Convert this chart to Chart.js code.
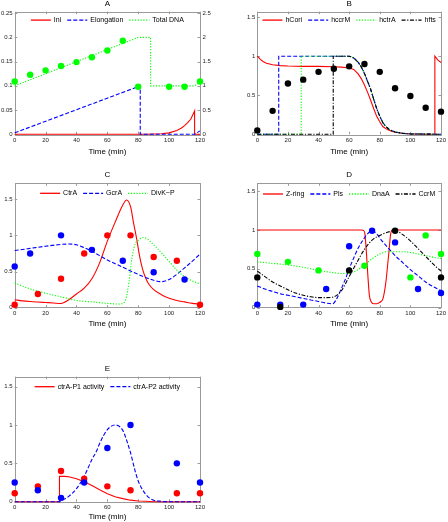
<!DOCTYPE html>
<html>
<head>
<meta charset="utf-8">
<script src="https://cdn.jsdelivr.net/npm/chart.js@4.4.0/dist/chart.umd.min.js"></script>
<style>
body { margin: 0; background: #fff; }
#page { position: relative; width: 448px; height: 522px; overflow: hidden; background: #fff; }
#page canvas { position: absolute; }
</style>
</head>
<body>
<div id="page">
	<canvas id="chartA"></canvas>
	<canvas id="chartB"></canvas>
	<canvas id="chartC"></canvas>
	<canvas id="chartD"></canvas>
	<canvas id="chartE"></canvas>
</div>
<script>
// ---- data (time in min) ----

// A
const iniTime = [0, 85, 95, 100, 105, 108, 110, 112, 114, 116.5, 116.5, 120]
const iniValue = [0, 0, 0.001, 0.003, 0.008, 0.013, 0.018, 0.024, 0.031, 0.048, 0, 0]
const elongTime = [0, 81.3, 81.3, 116.5, 120]
const elongValue = [0.003, 0.1, 0, 0, 0.007]
const dnaTime = [0, 80, 88, 88, 116.5, 120]
const dnaValue = [1.0, 2.0, 2.0, 1.0, 1.0, 1.07]
const dnaDotTime = [0, 10, 20, 30, 40, 50, 60, 70, 80, 100, 110, 120]
const dnaDotValue = [1.09, 1.23, 1.32, 1.41, 1.49, 1.59, 1.73, 1.93, 0.98, 0.98, 0.98, 1.09]

// B
const hCoriTime = [0, 2, 4, 6, 8, 10, 15, 20, 30, 40, 50, 55, 60, 63, 66, 68, 70, 72, 74, 76, 78, 80, 82, 85, 88, 92, 96, 100, 110, 116, 116, 118, 120]
const hCoriValue = [1.0, 0.96, 0.93, 0.91, 0.9, 0.89, 0.88, 0.875, 0.87, 0.87, 0.865, 0.86, 0.85, 0.83, 0.77, 0.71, 0.63, 0.54, 0.44, 0.33, 0.23, 0.16, 0.1, 0.06, 0.035, 0.02, 0.01, 0.005, 0, 0, 1.0, 0.95, 0.92]
const hFallTime = [60, 62, 64, 66, 68, 70, 72, 74, 76, 78, 80, 82, 84, 86, 88, 90, 95, 100, 120]
const hFallValue = [1, 0.99, 0.96, 0.92, 0.86, 0.78, 0.68, 0.58, 0.45, 0.33, 0.23, 0.15, 0.1, 0.065, 0.045, 0.03, 0.012, 0.005, 0]
const hccrMOn = 14
const hctrAOn = 28.7
const hftsOn = 49.6
const hDotTime = [0, 10, 20, 30, 40, 50, 60, 70, 80, 90, 100, 110, 120]
const hDotValue = [0.05, 0.3, 0.65, 0.7, 0.8, 0.84, 0.87, 0.9, 0.8, 0.59, 0.49, 0.34, 0.29]

// C
const ctrATime = [0, 5, 10, 15, 20, 25, 30, 35, 40, 45, 50, 55, 60, 65, 70, 72.5, 75, 77, 79, 81, 83, 85, 87, 90, 95, 100, 105, 110, 115, 120]
const ctrAValue = [0.11, 0.095, 0.085, 0.078, 0.072, 0.066, 0.058, 0.11, 0.19, 0.27, 0.4, 0.62, 0.92, 1.18, 1.42, 1.49, 1.4, 1.17, 0.95, 0.7, 0.52, 0.4, 0.32, 0.25, 0.18, 0.13, 0.1, 0.08, 0.06, 0.05]
const gcrATime = [0, 10, 20, 30, 35, 40, 45, 50, 60, 70, 80, 90, 95, 100, 110, 120]
const gcrAValue = [0.79, 0.82, 0.85, 0.875, 0.88, 0.87, 0.83, 0.78, 0.66, 0.56, 0.46, 0.38, 0.36, 0.39, 0.55, 0.74]
const divKTime = [0, 10, 20, 30, 40, 50, 60, 68, 70, 72, 74, 76, 78, 80, 83, 86, 90, 95, 100, 105, 110, 115, 120]
const divKValue = [0.34, 0.26, 0.2, 0.15, 0.1, 0.08, 0.06, 0.05, 0.06, 0.12, 0.35, 0.7, 0.88, 0.93, 0.97, 0.95, 0.87, 0.76, 0.64, 0.52, 0.43, 0.37, 0.33]
const ctrADotTime = [0, 15, 30, 45, 60, 75, 90, 105, 120]
const ctrADotValue = [0.04, 0.19, 0.4, 0.75, 1.0, 1.0, 0.7, 0.65, 0.04]
const gcrADotTime = [0, 10, 30, 50, 70, 90, 110]
const gcrADotValue = [0.57, 0.75, 1.0, 0.8, 0.65, 0.49, 0.39]

// D
const zRingTime = [0, 68, 69.5, 70.3, 71.1, 72.2, 73.2, 74.3, 76, 78, 80, 82, 84, 85, 86, 87, 88, 120]
const zRingValue = [1, 1, 0.99, 0.95, 0.76, 0.42, 0.16, 0.08, 0.05, 0.05, 0.07, 0.11, 0.33, 0.52, 0.72, 0.93, 1, 1]
const plsTime = [0, 5, 10, 15, 20, 25, 30, 35, 40, 45, 49, 50, 52, 55, 58, 60, 63, 66, 69, 72, 75, 78, 81, 85, 90, 95, 100, 105, 110, 115, 120]
const plsValue = [0.28, 0.24, 0.21, 0.18, 0.16, 0.14, 0.12, 0.1, 0.08, 0.06, 0.05, 0.06, 0.12, 0.25, 0.39, 0.5, 0.64, 0.77, 0.87, 0.95, 0.99, 0.95, 0.87, 0.78, 0.67, 0.58, 0.49, 0.41, 0.33, 0.27, 0.22]
const dnaATime = [0, 10, 20, 30, 40, 50, 55, 60, 65, 70, 75, 80, 85, 90, 95, 100, 105, 110, 115, 120]
const dnaAValue = [0.59, 0.57, 0.55, 0.52, 0.48, 0.45, 0.44, 0.45, 0.48, 0.55, 0.63, 0.69, 0.72, 0.72, 0.72, 0.71, 0.69, 0.67, 0.65, 0.63]
const ccrMTime = [0, 5, 10, 15, 20, 25, 30, 35, 40, 45, 50, 55, 60, 65, 70, 75, 80, 85, 90, 95, 100, 105, 110, 115, 120]
const ccrMValue = [0.47, 0.4, 0.33, 0.28, 0.23, 0.19, 0.16, 0.14, 0.13, 0.13, 0.14, 0.22, 0.4, 0.58, 0.75, 0.87, 0.93, 0.97, 0.99, 0.94, 0.86, 0.76, 0.66, 0.56, 0.47]
const plsDotTime = [0, 15, 30, 45, 60, 75, 90, 105, 120]
const plsDotValue = [0.04, 0.04, 0.04, 0.24, 0.79, 0.99, 0.84, 0.24, 0.19]
const dnaADotTime = [0, 20, 40, 70, 100, 110, 120]
const dnaADotValue = [0.69, 0.59, 0.48, 0.54, 0.39, 0.93, 0.69]
const ccrMDotTime = [0, 15, 60, 90, 120]
const ccrMDotValue = [0.39, 0.01, 0.48, 0.99, 0.39]

// E
const p1Time = [0, 29, 29, 32, 35, 40, 45, 50, 55, 60, 65, 70, 75, 80, 85, 90, 120]
const p1Value = [0, 0, 0.33, 0.33, 0.325, 0.3, 0.26, 0.21, 0.155, 0.105, 0.065, 0.04, 0.02, 0.01, 0.005, 0, 0]
const p2Time = [0, 29, 30, 35, 40, 45, 50, 53, 55, 60, 65, 70, 73, 75, 78, 80, 83, 86, 90, 95, 100, 120]
const p2Value = [0, 0, 0.01, 0.07, 0.17, 0.33, 0.55, 0.66, 0.76, 0.94, 1.0, 0.93, 0.77, 0.64, 0.4, 0.27, 0.15, 0.07, 0.02, 0.005, 0, 0]
const p1DotTime = [0, 15, 30, 45, 60, 75, 105, 120]
const p1DotValue = [0.11, 0.2, 0.4, 0.3, 0.2, 0.15, 0.11, 0.11]
const p2DotTime = [0, 15, 30, 45, 60, 75, 105, 120]
const p2DotValue = [0.25, 0.15, 0.05, 0.25, 0.7, 1.0, 0.5, 0.25]

const timeTicks = [0, 20, 40, 60, 80, 100, 120]

// ---- styling ----
const FONT = '"Liberation Sans", Arial, Helvetica, sans-serif'
Chart.defaults.font.family = FONT
Chart.defaults.color = '#000'

const RED = '#ff0000'
const BLUE = '#0000ff'
const GREEN = '#00ff00'
const BLACK = '#000000'
const DASH = [4, 2]
const DOT = [1.2, 1.6]
const DASHDOT = [4, 1.6, 1.2, 1.6]

const pairs = function (xs, ys) {
	return xs.map((x, i) => ({ x: x, y: ys[i] }))
}

// switch-on step followed by the shared decay
const stepThenFall = function (on) {
	return {
		xs: [0, on, on].concat(hFallTime),
		ys: [0, 0, 1].concat(hFallValue)
	}
}

const lineSet = function (label, xs, ys, color, dash, smooth, axis) {
	return {
		label: label,
		data: pairs(xs, ys),
		borderColor: color,
		backgroundColor: color,
		borderWidth: 1.1,
		borderDash: dash,
		pointRadius: 0,
		fill: false,
		tension: 0,
		cubicInterpolationMode: smooth ? 'monotone' : 'default',
		yAxisID: axis || 'y',
		clip: false
	}
}

const dotSet = function (xs, ys, color, axis) {
	return {
		label: '',
		data: pairs(xs, ys),
		showLine: false,
		pointRadius: 3.2,
		pointBorderWidth: 0,
		pointBackgroundColor: color,
		borderColor: color,
		yAxisID: axis || 'y',
		clip: false
	}
}

const fmt = function (v) {
	return String(Math.round(v * 100) / 100)
}

// title, box, inward ticks and in-axes legend
const PanelDecor = function (title, legendGap) {
	return {
		id: 'panelDecor',
		beforeDatasetsDraw: function (chart) {
			const ctx = chart.ctx
			const a = chart.chartArea
			ctx.save()
			ctx.strokeStyle = '#9a9a9a'
			ctx.lineWidth = 1
			ctx.strokeRect(Math.round(a.left) + 0.5, Math.round(a.top) + 0.5, Math.round(a.right - a.left), Math.round(a.bottom - a.top))
			const tl = 2.5
			ctx.beginPath()
			chart.scales.x.ticks.forEach(t => {
				const px = Math.round(chart.scales.x.getPixelForValue(t.value)) + 0.5
				ctx.moveTo(px, a.bottom); ctx.lineTo(px, a.bottom - tl)
				ctx.moveTo(px, a.top); ctx.lineTo(px, a.top + tl)
			})
			chart.scales.y.ticks.forEach(t => {
				const py = Math.round(chart.scales.y.getPixelForValue(t.value)) + 0.5
				ctx.moveTo(a.left, py); ctx.lineTo(a.left + tl, py)
				if (!chart.scales.y2) { ctx.moveTo(a.right, py); ctx.lineTo(a.right - tl, py) }
			})
			if (chart.scales.y2) {
				chart.scales.y2.ticks.forEach(t => {
					const py = Math.round(chart.scales.y2.getPixelForValue(t.value)) + 0.5
					ctx.moveTo(a.right, py); ctx.lineTo(a.right - tl, py)
				})
			}
			ctx.stroke()
			ctx.restore()
		},
		afterDraw: function (chart) {
			const ctx = chart.ctx
			const a = chart.chartArea
			ctx.save()
			ctx.fillStyle = '#000'
			ctx.font = '8px ' + FONT
			ctx.textAlign = 'center'
			ctx.textBaseline = 'middle'
			ctx.fillText(title, (a.left + a.right) / 2, a.top - 8.3)

			const items = chart.data.datasets.filter(d => d.label)
			const sample = 20, gapText = 3, gapItem = 6
			ctx.font = '7px ' + FONT
			ctx.textAlign = 'left'
			let total = gapItem * (items.length - 1)
			items.forEach(d => { total += sample + gapText + ctx.measureText(d.label).width })
			let x = (a.left + a.right) / 2 - total / 2
			const y = a.top + legendGap
			items.forEach(d => {
				ctx.strokeStyle = d.borderColor
				ctx.lineWidth = 1.3
				ctx.setLineDash(d.borderDash || [])
				ctx.beginPath()
				ctx.moveTo(x, y)
				ctx.lineTo(x + sample, y)
				ctx.stroke()
				ctx.setLineDash([])
				ctx.fillStyle = '#000'
				ctx.fillText(d.label, x + sample + gapText, y)
				x += sample + gapText + ctx.measureText(d.label).width + gapItem
			})
			ctx.restore()
		}
	}
}

const BuildPanel = function (p) {
	const canvas = document.getElementById(p.id)
	canvas.width = p.box.w
	canvas.height = p.box.h
	canvas.style.left = p.box.left + 'px'
	canvas.style.top = p.box.top + 'px'

	const leftW = p.plot.x0 - p.box.left
	const rightW = p.box.left + p.box.w - p.plot.x1
	const xH = p.xGap + 4.8
	const tickFont = { size: 6 }
	const noGrid = { display: false, drawTicks: false }

	const scales = {
		x: {
			type: 'linear', min: 0, max: 120,
			afterBuildTicks: s => { s.ticks = timeTicks.map(v => ({ value: v })) },
			ticks: { padding: 2, font: tickFont, color: '#222', maxRotation: 0, autoSkip: false },
			grid: noGrid,
			border: { display: false },
			title: { display: true, text: 'Time (min)', font: { size: 8 }, padding: 0, color: '#000' },
			afterFit: s => { s.height = xH }
		},
		y: {
			type: 'linear', position: 'left', min: 0, max: p.yMax,
			ticks: { stepSize: p.yStep, padding: 2, font: tickFont, color: '#222', callback: fmt, includeBounds: false, autoSkip: false },
			grid: noGrid,
			border: { display: false },
			afterFit: s => { s.width = leftW }
		}
	}
	if (p.yMax2) {
		scales.y2 = {
			type: 'linear', position: 'right', min: 0, max: p.yMax2,
			ticks: { stepSize: p.yStep2, padding: 2.5, font: tickFont, color: '#222', callback: fmt, includeBounds: false, autoSkip: false },
			grid: noGrid,
			border: { display: false },
			afterFit: s => { s.width = rightW }
		}
	}

	const config = {
		type: 'line',
		data: { datasets: p.datasets },
		options: {
			responsive: false,
			animation: false,
			events: [],
			layout: {
				padding: {
					left: 0,
					top: p.plot.y0 - p.box.top,
					right: p.yMax2 ? 0 : rightW,
					bottom: p.box.top + p.box.h - p.plot.y1 - xH
				}
			},
			scales: scales,
			plugins: { legend: { display: false }, tooltip: { enabled: false }, title: { display: false } }
		},
		plugins: [PanelDecor(p.title, p.legendGap)]
	}
	return new Chart(canvas, config)
}

// line order follows plotting order: later series sit on top
const ordered = function (sets) {
	sets.forEach((d, i) => { d.order = sets.length - i })
	return sets
}

const ccrMStep = stepThenFall(hccrMOn)
const ctrAStep = stepThenFall(hctrAOn)
const ftsStep = stepThenFall(hftsOn)

window.onload = function () {
	BuildPanel({
		id: 'chartA', title: 'A', legendGap: 8.4, xGap: 17.4,
		box: { left: 0, top: 0, w: 224, h: 162 },
		plot: { x0: 14.7, x1: 200, y0: 11.7, y1: 134.3 },
		yMax: 0.253, yStep: 0.05, yMax2: 2.53, yStep2: 0.5,
		datasets: ordered([
			lineSet('Ini', iniTime, iniValue, RED, [], false),
			lineSet('Elongation', elongTime, elongValue, BLUE, DASH, false),
			lineSet('Total DNA', dnaTime, dnaValue, GREEN, DOT, false, 'y2'),
			dotSet(dnaDotTime, dnaDotValue, GREEN, 'y2')
		])
	})

	BuildPanel({
		id: 'chartB', title: 'B', legendGap: 8.4, xGap: 17.4,
		box: { left: 224, top: 0, w: 224, h: 162 },
		plot: { x0: 257.3, x1: 443, y0: 11.7, y1: 134.3 },
		yMax: 1.57, yStep: 0.5,
		datasets: ordered([
			lineSet('hCori', hCoriTime, hCoriValue, RED, [], false),
			lineSet('hccrM', ccrMStep.xs, ccrMStep.ys, BLUE, DASH, false),
			lineSet('hctrA', ctrAStep.xs, ctrAStep.ys, GREEN, DOT, false),
			lineSet('hfts', ftsStep.xs, ftsStep.ys, BLACK, DASHDOT, false),
			dotSet(hDotTime, hDotValue, BLACK)
		])
	})

	BuildPanel({
		id: 'chartC', title: 'C', legendGap: 10, xGap: 15.6,
		box: { left: 0, top: 150, w: 224, h: 190 },
		plot: { x0: 14.7, x1: 200, y0: 183.3, y1: 307.7 },
		yMax: 1.72, yStep: 0.5,
		datasets: ordered([
			lineSet('CtrA', ctrATime, ctrAValue, RED, [], true),
			lineSet('GcrA', gcrATime, gcrAValue, BLUE, DASH, true),
			lineSet('DivK~P', divKTime, divKValue, GREEN, DOT, true),
			dotSet(ctrADotTime, ctrADotValue, RED),
			dotSet(gcrADotTime, gcrADotValue, BLUE)
		])
	})

	BuildPanel({
		id: 'chartD', title: 'D', legendGap: 10.7, xGap: 15.6,
		box: { left: 224, top: 150, w: 224, h: 190 },
		plot: { x0: 257.3, x1: 443, y0: 183.3, y1: 307.7 },
		yMax: 1.6, yStep: 0.5,
		datasets: ordered([
			lineSet('Z-ring', zRingTime, zRingValue, RED, [], true),
			lineSet('Pls', plsTime, plsValue, BLUE, DASH, true),
			lineSet('DnaA', dnaATime, dnaAValue, GREEN, DOT, true),
			lineSet('CcrM', ccrMTime, ccrMValue, BLACK, DASHDOT, true),
			dotSet(plsDotTime, plsDotValue, BLUE),
			dotSet(dnaADotTime, dnaADotValue, GREEN),
			dotSet(ccrMDotTime, ccrMDotValue, BLACK)
		])
	})

	BuildPanel({
		id: 'chartE', title: 'E', legendGap: 10, xGap: 15,
		box: { left: 0, top: 345, w: 224, h: 177 },
		plot: { x0: 14.7, x1: 200, y0: 376.7, y1: 501.7 },
		yMax: 1.63, yStep: 0.5,
		datasets: ordered([
			lineSet('ctrA-P1 activity', p1Time, p1Value, RED, [], false),
			lineSet('ctrA-P2 activity', p2Time, p2Value, BLUE, DASH, true),
			dotSet(p1DotTime, p1DotValue, RED),
			dotSet(p2DotTime, p2DotValue, BLUE)
		])
	})
}
</script>
</body>
</html>
